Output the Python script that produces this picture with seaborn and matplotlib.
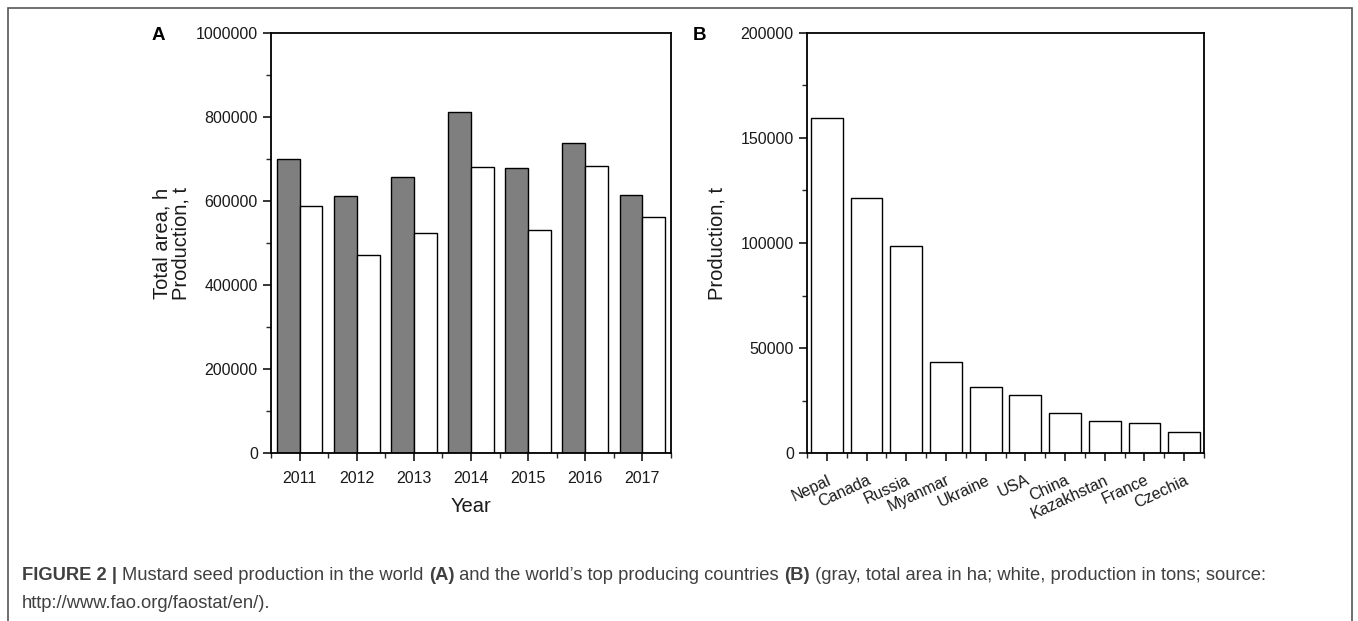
import numpy as np
import pandas as pd
import matplotlib
matplotlib.use("Agg")
import matplotlib.pyplot as plt
from matplotlib.ticker import MultipleLocator, FixedLocator, StrMethodFormatter
import seaborn as sns

sns.set_style("ticks")
plt.rcParams['font.family'] = ['Liberation Sans', 'DejaVu Sans']

# Painel A: mundo, 2011-2017
anos = ['2011', '2012', '2013', '2014', '2015', '2016', '2017']
area_total = [700000, 613000, 656000, 811000, 678000, 737000, 614000]
producao = [587000, 472000, 524000, 680000, 532000, 683000, 562000]

# Painel B: maiores produtores
paises = ['Nepal', 'Canada', 'Russia', 'Myanmar', 'Ukraine', 'USA',
          'China', 'Kazakhstan', 'France', 'Czechia']
producao_paises = [159700, 121600, 98400, 43200, 31300, 27600,
                   18900, 15400, 14400, 9800]

df_a = pd.DataFrame({
    'ano': anos * 2,
    'valor': area_total + producao,
    'serie': ['area'] * len(anos) + ['producao'] * len(anos),
})
df_b = pd.DataFrame({'pais': paises, 'valor': producao_paises})

W, H = 1358, 621
fig = plt.figure(figsize=(W / 100, H / 100), dpi=100)

ax_a = fig.add_axes([271 / W, 1 - 453 / H, 400 / W, 420 / H])
ax_b = fig.add_axes([807 / W, 1 - 453 / H, 397 / W, 420 / H])

sns.barplot(data=df_a, x='ano', y='valor', hue='serie', ax=ax_a,
            palette=['#7f7f7f', 'white'], edgecolor='black', linewidth=1,
            saturation=1, legend=False)
sns.barplot(data=df_b, x='pais', y='valor', ax=ax_b, color='white',
            edgecolor='black', linewidth=1, saturation=1, width=0.8)

cor_texto = '#1a1a1a'
for ax in (ax_a, ax_b):
    for s in ax.spines.values():
        s.set_visible(True)
        s.set_linewidth(1.3)
        s.set_color('black')
    ax.tick_params(which='major', direction='out', length=6, width=1.1,
                   labelsize=11.5, colors='black', labelcolor=cor_texto)
    ax.tick_params(which='minor', direction='out', length=3.5, width=1.0)
    ax.tick_params(top=False, right=False)
    ax.yaxis.set_major_formatter(StrMethodFormatter('{x:.0f}'))
    ax.tick_params(axis='x', which='major', pad=7)

ax_a.set_xlim(-0.5, 6.5)
ax_a.xaxis.set_minor_locator(FixedLocator(np.arange(-0.5, 7, 1)))
ax_a.set_ylim(0, 1000000)
ax_a.yaxis.set_major_locator(MultipleLocator(200000))
ax_a.yaxis.set_minor_locator(MultipleLocator(100000))
ax_a.set_xlabel('Year', fontsize=14.5, color=cor_texto, labelpad=8)
ax_a.set_ylabel('Total area, h\nProduction, t', fontsize=14.5,
                color=cor_texto, linespacing=0.95, labelpad=4)

ax_b.set_xlim(-0.5, 9.5)
ax_b.xaxis.set_minor_locator(FixedLocator(np.arange(-0.5, 10, 1)))
ax_b.set_ylim(0, 200000)
ax_b.yaxis.set_major_locator(MultipleLocator(50000))
ax_b.yaxis.set_minor_locator(MultipleLocator(25000))
ax_b.set_xlabel('')
ax_b.set_ylabel('Production, t', fontsize=14.5, color=cor_texto, labelpad=10)
ax_b.tick_params(axis='x', which='major', pad=8)
for lab in ax_b.get_xticklabels():
    lab.set_rotation(25)
    lab.set_ha('right')
    lab.set_rotation_mode('anchor')

fig.text(152 / W, 1 - 35 / H, 'A', fontsize=13.5, fontweight='bold',
         va='center', ha='left', color='black')
fig.text(693 / W, 1 - 35 / H, 'B', fontsize=13.5, fontweight='bold',
         va='center', ha='left', color='black')

# moldura da figura
fig.add_artist(plt.Rectangle((8 / W, -0.05), 1344 / W, 1 - 8 / H + 0.05,
                             transform=fig.transFigure, fill=False,
                             edgecolor='#555555', linewidth=1.2))

# legenda (caption) com partes em negrito
cor_leg = '#404040'
partes = [('FIGURE 2 | ', 'bold'), ('Mustard seed production in the world ', 'normal'),
          ('(A)', 'bold'), (' and the world\u2019s top producing countries ', 'normal'),
          ('(B)', 'bold'),
          (' (gray, total area in ha; white, production in tons; source:', 'normal')]
renderer = fig.canvas.get_renderer()
x = 22 / W
y = 1 - 575 / H
for txt, peso in partes:
    t = fig.text(x, y, txt, fontsize=13.2, fontweight=peso, color=cor_leg,
                 va='center', ha='left')
    bb = t.get_window_extent(renderer=renderer)
    x += bb.width / W
fig.text(22 / W, 1 - 603 / H, 'http://www.fao.org/faostat/en/).',
         fontsize=13.2, color=cor_leg, va='center', ha='left')

fig.savefig('out.png', dpi=100)
